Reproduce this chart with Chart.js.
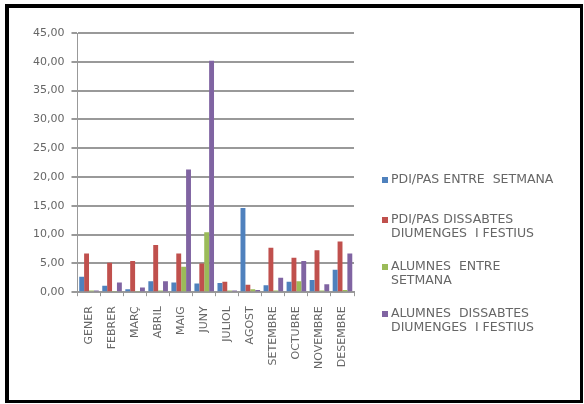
<!DOCTYPE html>
<html>
<head>
<meta charset="utf-8">
<script src="https://cdn.jsdelivr.net/npm/chart.js@4"></script>
<style>
  body { margin: 0; background: #fff; }
  #wrap { position: relative; width: 584px; height: 404px; }
  #frame {
    position: absolute; left: 5px; top: 4px; width: 571px; height: 392px;
    border-style: solid; border-color: #000;
    border-width: 4px 3px 3px 4px;
  }
  canvas { position: absolute; left: 0; top: 0; }
</style>
</head>
<body>
<div id="wrap">
  <div id="frame"></div>
  <canvas id="chart" width="584" height="404"></canvas>
</div>
<script>
// months on the x axis
const months = ["GENER", "FEBRER", "MARÇ", "ABRIL", "MAIG", "JUNY", "JULIOL", "AGOST",
    "SETEMBRE", "OCTUBRE", "NOVEMBRE", "DESEMBRE"];

// series values
const pdiPasWeek = [2.7, 1.1, 0.5, 1.9, 1.7, 1.5, 1.6, 14.6, 1.2, 1.8, 2.1, 3.9];
const pdiPasWeekend = [6.7, 5.1, 5.4, 8.2, 6.7, 5.0, 1.8, 1.3, 7.7, 6.0, 7.3, 8.8];
const studentsWeek = [0.3, 0.2, 0.2, 0.3, 4.4, 10.4, 0.3, 0.5, 0.3, 1.9, 0.3, 0.4];
const studentsWeekend = [0.3, 1.7, 0.8, 1.9, 21.3, 40.2, 0.3, 0.4, 2.5, 5.4, 1.4, 6.7];

// legend text, one entry per series (lines as drawn)
const seriesLabels = [
    ["PDI/PAS ENTRE  SETMANA"],
    ["PDI/PAS DISSABTES", "DIUMENGES  I FESTIUS"],
    ["ALUMNES  ENTRE", "SETMANA"],
    ["ALUMNES  DISSABTES", "DIUMENGES  I FESTIUS"],
];

// y axis
const yMax = 45;
const yStep = 5;

const colors = ["#4F81BD", "#C0504D", "#9BBB59", "#8064A2"];
const fontFamily = "'DejaVu Sans', 'Liberation Sans', sans-serif";
const textColor = "#666";

// legend drawn by hand so labels can wrap on two lines
const sideLegend = {
    id: "sideLegend",
    afterDraw(chart) {
        const ctx = chart.ctx;
        const lineH = 14;
        ctx.save();
        ctx.font = "12.5px " + fontFamily;
        ctx.textBaseline = "middle";
        chart.data.datasets.forEach((ds, i) => {
            const lines = seriesLabels[i];
            const center = 180 + i * 47;
            const firstY = center - (lines.length - 1) * lineH / 2;
            ctx.fillStyle = ds.backgroundColor;
            ctx.fillRect(382, firstY - 3, 6, 6);
            ctx.fillStyle = textColor;
            lines.forEach((line, j) => {
                ctx.fillText(line, 391, firstY + j * lineH);
            });
        });
        ctx.restore();
    }
};

const ctx = document.getElementById("chart").getContext("2d");
new Chart(ctx, {
    type: "bar",
    data: {
        labels: months,
        datasets: [
            { label: seriesLabels[0].join(" "), data: pdiPasWeek, backgroundColor: colors[0] },
            { label: seriesLabels[1].join(" "), data: pdiPasWeekend, backgroundColor: colors[1] },
            { label: seriesLabels[2].join(" "), data: studentsWeek, backgroundColor: colors[2] },
            { label: seriesLabels[3].join(" "), data: studentsWeekend, backgroundColor: colors[3] },
        ]
    },
    options: {
        responsive: false,
        animation: false,
        layout: { padding: { left: 26, right: 230, top: 33, bottom: 25 } },
        datasets: {
            bar: { categoryPercentage: 0.85, barPercentage: 1.0 }
        },
        plugins: {
            legend: { display: false },
            tooltip: { enabled: false }
        },
        scales: {
            x: {
                grid: {
                    display: true,
                    drawOnChartArea: false,
                    offset: true,
                    color: "#999",
                    tickLength: 4
                },
                border: { color: "#999", width: 2 },
                ticks: {
                    minRotation: 90,
                    maxRotation: 90,
                    padding: 10,
                    color: textColor,
                    font: { family: fontFamily, size: 11 }
                }
            },
            y: {
                min: 0,
                max: yMax,
                ticks: {
                    stepSize: yStep,
                    padding: 7,
                    color: textColor,
                    font: { family: fontFamily, size: 11 },
                    callback: (v) => v.toFixed(2).replace(".", ",")
                },
                grid: { color: "#999", lineWidth: 2, tickLength: 6 },
                border: { color: "#999", width: 1 }
            }
        }
    },
    plugins: [sideLegend]
});
</script>
</body>
</html>
